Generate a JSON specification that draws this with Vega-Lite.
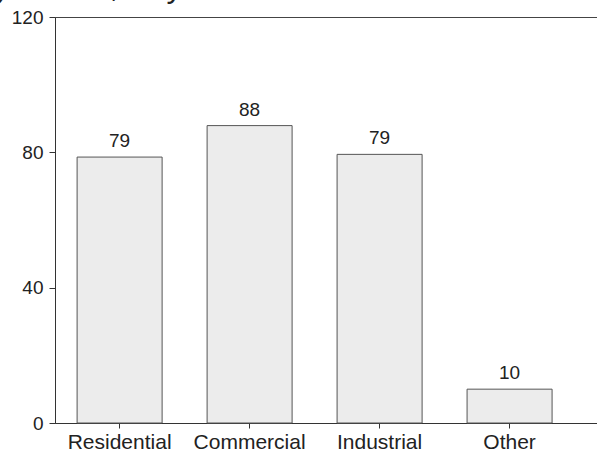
{
  "$schema": "https://vega.github.io/schema/vega-lite/v6.json",
  "width": 560,
  "height": 406,
  "autosize": "none",
  "padding": {"left": 55, "top": 17, "right": 0, "bottom": 30},
  "background": "white",
  "title": {
    "text": "Energy Use by Sector, Key Year",
    "anchor": "start",
    "frame": "group",
    "fontSize": 32,
    "fontWeight": "normal",
    "font": "Liberation Sans",
    "color": "#222222",
    "baseline": "alphabetic",
    "dx": -255,
    "dy": 24,
    "offset": 3
  },
  "data": {
    "values": [
      {"sector": "Residential", "value": 78.6},
      {"sector": "Commercial", "value": 87.9},
      {"sector": "Industrial", "value": 79.4},
      {"sector": "Other", "value": 10.0}
    ]
  },
  "config": {
    "font": "Liberation Sans",
    "view": {"stroke": "#444444", "strokeWidth": 1},
    "axis": {
      "labelFont": "Liberation Sans",
      "labelColor": "#222222",
      "domainColor": "#333333",
      "tickColor": "#333333",
      "grid": false,
      "title": null
    }
  },
  "encoding": {
    "x": {
      "field": "sector",
      "type": "nominal",
      "sort": null,
      "scale": {"paddingInner": 0.346, "paddingOuter": 0.327, "align": 0.26},
      "axis": {"labelAngle": 0, "tickSize": 5, "labelPadding": 3, "labelFontSize": 21, "title": null}
    },
    "y": {
      "field": "value",
      "type": "quantitative",
      "scale": {"domain": [0, 120], "nice": false},
      "axis": {"values": [0, 40, 80, 120], "tickSize": 6, "labelPadding": 6, "labelFontSize": 19, "title": null}
    }
  },
  "layer": [
    {
      "mark": {"type": "bar", "fill": "#ececec", "stroke": "#555555", "strokeWidth": 1}
    },
    {
      "mark": {"type": "text", "baseline": "alphabetic", "dy": -10, "fontSize": 19, "fill": "#222222", "font": "Liberation Sans"},
      "encoding": {"text": {"field": "value", "type": "quantitative", "format": ".0f"}}
    }
  ]
}
